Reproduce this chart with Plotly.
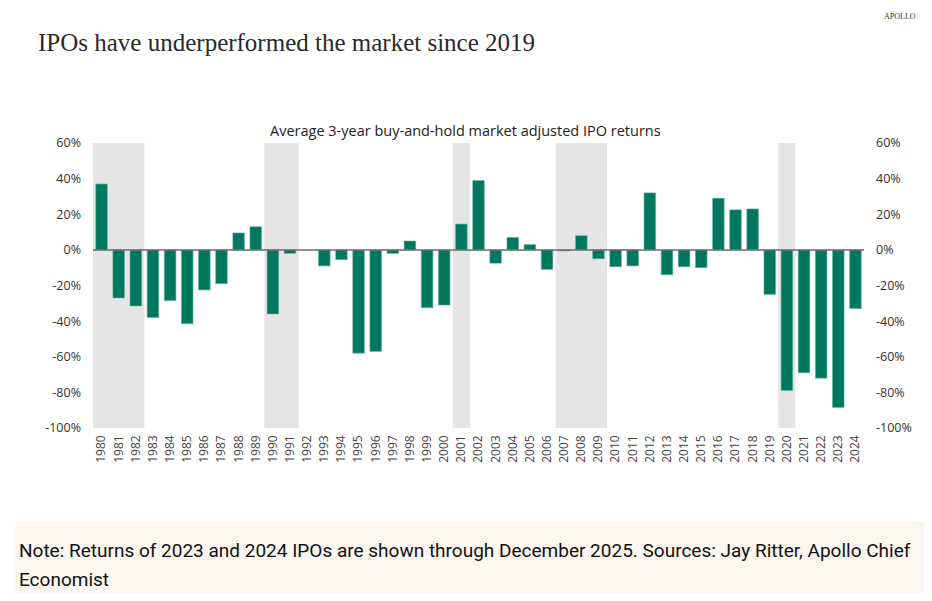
import plotly.graph_objects as go

years = [str(y) for y in range(1980, 2025)]
returns = [37, -27, -31.5, -38, -28.5, -41.5, -22.5, -19, 9.5, 13,
           -36, -2, None, -9, -5.5, -58, -57, -2, 5, -32.5,
           -31, 14.5, 39, -7.5, 7, 3, -11, -0.5, 8, -5,
           -9.5, -9, 32, -14, -9.5, -10, 29, 22.5, 23, -25,
           -79, -69, -72, -88.5, -33]

# recession periods (first year, last year)
recessions = [("1980", "1982"), ("1990", "1991"), ("2001", "2001"),
              ("2007", "2009"), ("2020", "2020")]

tick_vals = list(range(-100, 61, 20))
tick_text = [f"{v}%" for v in tick_vals]

# page body has an 8px margin, so the figure is drawn 8px in
OFF = 8
W, H = 932 - 2 * OFF, 601 - 2 * OFF
# plot area in screen pixels
L, R, T, B = 93, 868, 143, 428


def px_x(p):
    return (p - L) / (R - L)


def px_y(p):
    return (B - p) / (B - T)


fig = go.Figure()

for a, b in recessions:
    fig.add_shape(type="rect", xref="x", yref="y",
                  x0=years.index(a) - 0.5, x1=years.index(b) + 0.5,
                  y0=-100, y1=60, fillcolor="#e5e5e5", line_width=0,
                  layer="below")

fig.add_trace(go.Bar(x=years, y=returns, marker_color="#00785f",
                     marker_line=dict(color="#6fb8a6", width=0.6),
                     width=0.68, hoverinfo="x+y"))
# dummy trace so the right axis is drawn
fig.add_trace(go.Scatter(x=years[:1], y=[0], yaxis="y2", mode="markers",
                         marker_opacity=0, showlegend=False, hoverinfo="skip"))

fig.add_shape(type="line", xref="paper", yref="y", x0=0, x1=1, y0=0, y1=0,
              line=dict(color="#6b6b6b", width=1.5))

yax = dict(range=[-100, 60], tickvals=tick_vals, ticktext=tick_text,
           showgrid=False, zeroline=False, showline=False,
           tickfont=dict(family="Open Sans", size=12.5, color="#333"),
           ticks="", ticklabelstandoff=11, fixedrange=True)

fig.update_layout(
    width=W, height=H,
    margin=dict(l=L - OFF, r=W + OFF - R, t=T - OFF, b=H + OFF - B),
    plot_bgcolor="white", paper_bgcolor="white",
    showlegend=False,
    xaxis=dict(type="category", range=[-0.5, len(years) - 0.5],
               tickangle=-90, showgrid=False, showline=False, ticks="",
               ticklabelstandoff=4,
               tickfont=dict(family="Open Sans", size=12, color="#444")),
    yaxis=yax,
    yaxis2=dict(yax, overlaying="y", side="right"),
)

# note box
fig.add_shape(type="rect", xref="paper", yref="paper",
              x0=px_x(15), x1=px_x(940), y0=px_y(522), y1=px_y(610),
              fillcolor="#fcf6f0", line_width=0, layer="below")

note_font = dict(family="Roboto", size=19, color="#111")
ann = [
    dict(text="IPOs have underperformed the market since 2019", x=px_x(36), y=px_y(42),
         font=dict(family="Liberation Serif", size=25, color="#2a2a2a"), xanchor="left"),
    dict(text="APOLLO", x=px_x(922), y=px_y(17),
         font=dict(family="Liberation Serif", size=8, color="#333"), xanchor="right"),
    dict(text="Average 3-year buy-and-hold market adjusted IPO returns", x=px_x(467), y=px_y(130),
         font=dict(family="Open Sans", size=14.5, color="#222"), xanchor="center"),
    dict(text="Note: Returns of 2023 and 2024 IPOs are shown through December 2025. Sources: Jay Ritter, Apollo Chief",
         x=px_x(17), y=px_y(550), font=note_font, xanchor="left"),
    dict(text="Economist", x=px_x(17), y=px_y(579), font=note_font, xanchor="left"),
]
for a in ann:
    fig.add_annotation(xref="paper", yref="paper", showarrow=False, yanchor="middle", **a)

fig.write_html("out.html")
